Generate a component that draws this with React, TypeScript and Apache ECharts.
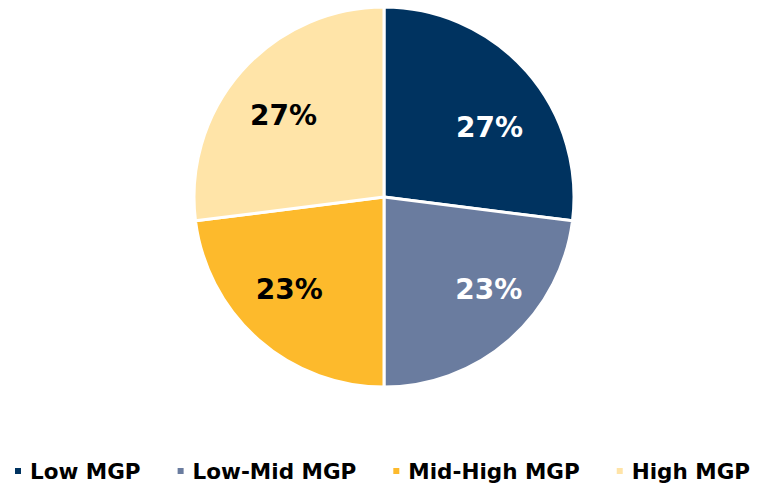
import React, { useEffect, useRef } from "react";
import * as echarts from "echarts";

const categories = ["Low MGP", "Low-Mid MGP", "Mid-High MGP", "High MGP"];
const values = [27, 23, 23, 27];
const colors = ["#003360", "#6A7C9F", "#FDBA2C", "#FFE4A8"];
const labelColors = ["#FFFFFF", "#FFFFFF", "#000000", "#000000"];
const labelNudges = [
  [32, -5],
  [40, 19],
  [-30, 19],
  [-27, -17],
];

export default function App() {
  const ref = useRef<HTMLDivElement>(null);
  useEffect(() => {
    const chart = echarts.init(ref.current!, null, { renderer: "svg" });
    chart.setOption({
      animation: false,
      backgroundColor: "#FFFFFF",
      legend: {
        bottom: 2,
        left: 13,
        width: 759,
        padding: 0,
        itemWidth: 8,
        itemHeight: 8,
        itemGap: 35,
        icon: "rect",
        textStyle: {
          fontFamily: "DejaVu Sans",
          fontWeight: "bold",
          fontSize: 21.5,
          color: "#000000",
          padding: [0, 0, 0, 3],
        },
        data: categories,
      },
      series: [
        {
          type: "pie",
          center: [384, 197],
          radius: [0, 190],
          startAngle: 90,
          clockwise: true,
          itemStyle: { borderColor: "#FFFFFF", borderWidth: 3 },
          label: {
            position: "inside",
            formatter: "{c}%",
            fontFamily: "DejaVu Sans",
            fontWeight: "bold",
            fontSize: 28,
          },
          labelLine: { show: false },
          data: categories.map((name, i) => ({
            name,
            value: values[i],
            itemStyle: { color: colors[i] },
            label: { color: labelColors[i], offset: labelNudges[i] },
          })),
        },
      ],
    });
    return () => chart.dispose();
  }, []);
  return (
    <div
      ref={ref}
      style={{ position: "fixed", left: 0, top: 0, width: 759, height: 484 }}
    />
  );
}
